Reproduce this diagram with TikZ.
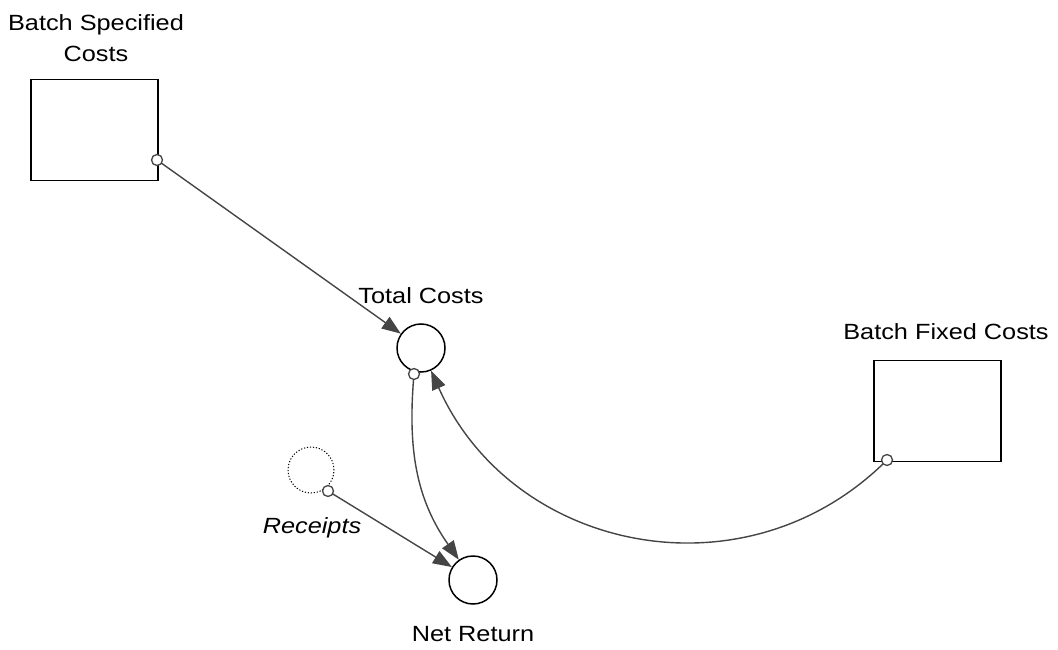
\documentclass[tikz,border=0pt]{standalone}
\usepackage{fontspec}
\setmainfont[FakeStretch=1.15]{Liberation Sans}
\usetikzlibrary{arrows.meta}
\definecolor{linkgray}{HTML}{454545}
\begin{document}
\begin{tikzpicture}[x=1pt,y=-1pt,
  lbl/.style={font=\fontsize{22}{31}\selectfont, align=center, inner sep=0pt},
  stock/.style={draw=black, line width=1.5pt, minimum width=127pt, minimum height=101pt, inner sep=0pt},
  aux/.style={circle, draw=black, line width=1.5pt, minimum size=48pt, inner sep=0pt},
  ghost/.style={circle, draw=black, line width=1pt, dash pattern=on 1.2pt off 1.8pt, minimum size=46pt, inner sep=0pt},
  pin/.style={circle, draw=linkgray, fill=white, line width=1.3pt, minimum size=11pt, inner sep=0pt},
  link/.style={draw=linkgray, line width=1.4pt, -{Triangle[length=19pt, width=14pt]}}
]
\useasboundingbox (0,0) rectangle (1058,650);

% stocks
\node[stock] (bsc) at (94.5,130) {};
\node[lbl] (bscl) at (96,38) {Batch Specified\\Costs};
\node[stock] (bfc) at (937.5,411) {};
\node[lbl] (bfcl) at (946,332) {Batch Fixed Costs};

% variables
\node[aux] (tc) at (421,348) {};
\node[lbl] (tcl) at (421,296) {Total Costs};
\node[aux] (nr) at (473,580) {};
\node[lbl] (nrl) at (473,634) {Net Return};
\node[ghost] (rec) at (311,470) {};
\node[lbl, font=\fontsize{22}{31}\selectfont\itshape] (recl) at (312,528) {Receipts};

% link origins
\coordinate (bscp) at (157,160);
\coordinate (tcp) at (414,374);
\coordinate (bfcp) at (887,460);
\coordinate (recp) at (328,491);

% influence links
\draw[link] (bscp) -- (tc);
\draw[link] (recp) -- (nr);
\draw[link] (tcp) to[out=-95, in=125] (nr);
\draw[link] (bfcp) to[out=225, in=-66, looseness=1.1] (tc);

% pins on top of the links
\node[pin] (bscpin) at (bscp) {};
\node[pin] (tcpin) at (tcp) {};
\node[pin] (bfcpin) at (bfcp) {};
\node[pin] (recpin) at (recp) {};
\end{tikzpicture}
\end{document}
